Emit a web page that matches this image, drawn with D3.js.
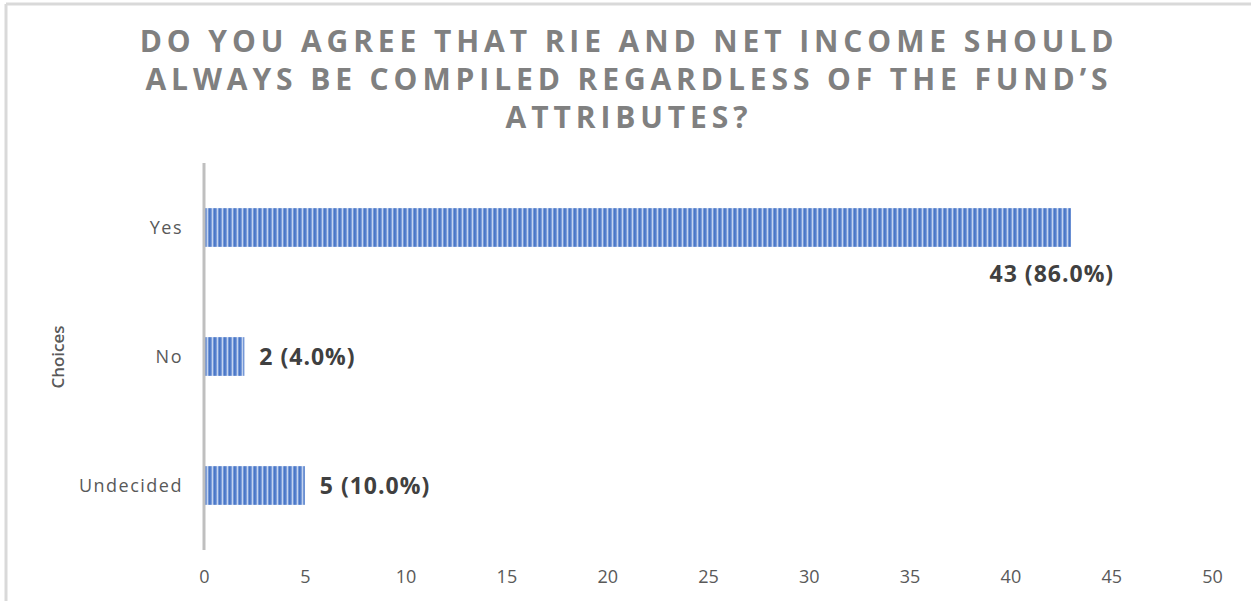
<!DOCTYPE html>
<html>
<head>
<meta charset="utf-8">
<title>RIE and net income survey</title>
<script src="https://d3js.org/d3.v7.min.js"></script>
<style>
body { margin: 0; background: #fff; }
.title text { font-family: "Open Sans", sans-serif; font-weight: 700; fill: #808080; font-size: 30px; letter-spacing: 4.9px; }
.tick text { font-family: "Open Sans", sans-serif; font-size: 18px; fill: #595959; }
.cat { font-family: "Open Sans", sans-serif; font-size: 18px; fill: #595959; letter-spacing: 1.5px; }
.lbl { font-family: "Open Sans", sans-serif; font-size: 23px; font-weight: 700; fill: #404040; letter-spacing: 1px; }
.ytitle { font-family: "Open Sans", sans-serif; font-size: 17px; font-weight: 600; fill: #595959; }
</style>
</head>
<body>
<svg id="chart" width="1251" height="601"></svg>
<script>
var titleLines = ["DO YOU AGREE THAT RIE AND NET INCOME SHOULD",
                  "ALWAYS BE COMPILED REGARDLESS OF THE FUND\u2019S",
                  "ATTRIBUTES?"];
var choices = ["Yes", "No", "Undecided"];
var counts = [43, 2, 5];
var percents = [86.0, 4.0, 10.0];
var xTicks = [0, 5, 10, 15, 20, 25, 30, 35, 40, 45, 50];

var svg = d3.select("#chart");

// frame edges (top + left only visible)
svg.append("line").attr("x1", 6).attr("x2", 1251).attr("y1", 4).attr("y2", 4)
  .attr("stroke", "#d9d9d9").attr("stroke-width", 3);
svg.append("line").attr("x1", 6).attr("x2", 6).attr("y1", 4).attr("y2", 601)
  .attr("stroke", "#d9d9d9").attr("stroke-width", 3);

// stripe pattern for bars
var defs = svg.append("defs");
var grad = defs.append("linearGradient").attr("id", "stripeGrad")
  .attr("x1", "0").attr("x2", "1").attr("y1", "0").attr("y2", "0");
grad.append("stop").attr("offset", "0%").attr("stop-color", "#4472c4");
grad.append("stop").attr("offset", "40%").attr("stop-color", "#5a84cf");
grad.append("stop").attr("offset", "70%").attr("stop-color", "#c5d4ef");
grad.append("stop").attr("offset", "100%").attr("stop-color", "#4f7bcb");
var pat = defs.append("pattern").attr("id", "stripes")
  .attr("patternUnits", "userSpaceOnUse").attr("width", 5).attr("height", 10);
pat.append("rect").attr("width", 5).attr("height", 10).attr("fill", "url(#stripeGrad)");

var margin = {left: 204, right: 39, top: 163, bottom: 51};
var width = 1251 - margin.left - margin.right,
    height = 601 - margin.top - margin.bottom;

var x = d3.scaleLinear().domain([0, 50]).range([0, width]);
var y = d3.scaleBand().domain(choices).range([0, height]).paddingInner(0.7).paddingOuter(0.35);

var g = svg.append("g").attr("transform", "translate(" + margin.left + "," + margin.top + ")");

// title
var tg = svg.append("g").attr("class", "title");
tg.selectAll("text").data(titleLines).enter().append("text")
  .attr("x", 629).attr("y", function (d, i) { return 52 + i * 38; })
  .attr("text-anchor", "middle")
  .text(function (d) { return d; });

// x axis
var xAxis = g.append("g").attr("transform", "translate(0," + (height + 6) + ")")
  .call(d3.axisBottom(x).tickValues(xTicks).tickSize(0).tickPadding(14));
xAxis.select(".domain").remove();

// bars
var data = choices.map(function (c, i) { return {c: c, v: counts[i], p: percents[i]}; });
g.selectAll("rect.bar").data(data).enter().append("rect")
  .attr("class", "bar")
  .attr("x", x(0) + 1)
  .attr("y", function (d) { return y(d.c); })
  .attr("width", function (d) { return x(d.v) - x(0) - 1; })
  .attr("height", y.bandwidth())
  .attr("fill", "url(#stripes)");

// y axis line
g.append("line").attr("x1", 0).attr("x2", 0).attr("y1", 0).attr("y2", height)
  .attr("stroke", "#bfbfbf").attr("stroke-width", 3);

// category labels
g.selectAll("text.cat").data(data).enter().append("text")
  .attr("class", "cat")
  .attr("x", -21)
  .attr("y", function (d) { return y(d.c) + y.bandwidth() / 2; })
  .attr("dy", "0.35em")
  .attr("text-anchor", "end")
  .text(function (d) { return d.c; });

// data labels
g.selectAll("text.lbl").data(data).enter().append("text")
  .attr("class", "lbl")
  .attr("x", function (d) { return d.v > 40 ? x(d.v) - 19 : x(d.v) + 15; })
  .attr("y", function (d) { return d.v > 40 ? y(d.c) + y.bandwidth() + 27 : y(d.c) + y.bandwidth() / 2; })
  .attr("dy", "0.35em")
  .attr("text-anchor", function (d) { return d.v > 40 ? "middle" : "start"; })
  .text(function (d) { return d.v + " (" + d.p.toFixed(1) + "%)"; });

// y axis title
svg.append("text").attr("class", "ytitle")
  .attr("transform", "translate(64,357) rotate(-90)")
  .attr("text-anchor", "middle")
  .text("Choices");
</script>
</body>
</html>
